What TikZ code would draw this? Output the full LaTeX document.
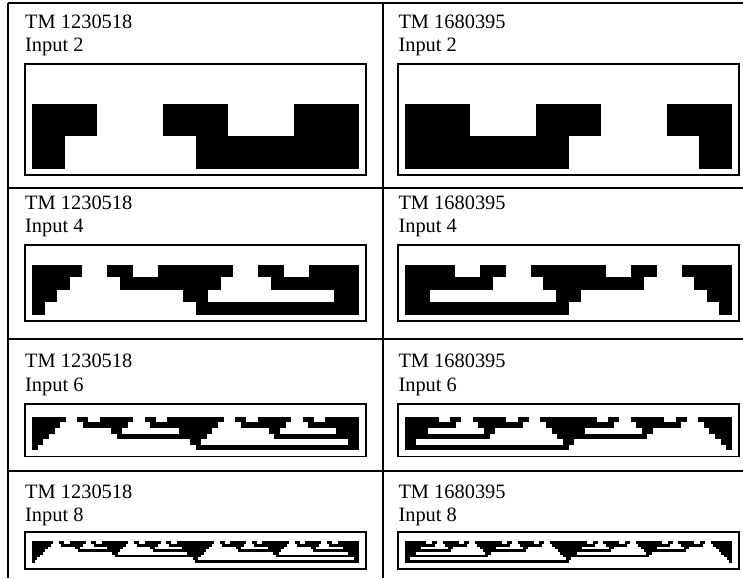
\documentclass[tikz,border=0pt]{standalone}
\usepackage{fontspec}
\setmainfont{Liberation Serif}

\tikzset{
  lbl/.style={anchor=base west, inner sep=0pt, font=\fontsize{20.4}{23}\selectfont},
  rule/.style={line width=1.8pt},
  frame/.style={line width=1.8pt},
}

% one row of the tape: list of black runs a/b (cells a..b-1)
\newcommand{\tmrow}[2]{\foreach \a/\b in {#2} \fill (\a,#1) rectangle (\b,#1+1);}

\newcommand{\tmtwo}{%
  \tmrow{1}{0/2,4/6,8/10}
  \tmrow{2}{0/1,5/10}}
\newcommand{\tmfour}{%
  \tmrow{1}{0/4,6/8,10/16,18/20,22/26}
  \tmrow{2}{0/3,7/15,19/26}
  \tmrow{3}{0/2,12/14,24/26}
  \tmrow{4}{0/1,13/26}}
\newcommand{\tmsix}{%
  \tmrow{1}{0/6,8/10,12/18,20/22,24/34,36/38,40/46,48/50,52/58}
  \tmrow{2}{0/5,9/17,21/33,37/45,49/58}
  \tmrow{3}{0/4,14/16,26/32,42/44,54/58}
  \tmrow{4}{0/3,15/31,43/58}
  \tmrow{5}{0/2,28/30,56/58}
  \tmrow{6}{0/1,29/58}}
\newcommand{\tmeight}{%
  \tmrow{1}{0/8,10/12,14/20,22/24,26/36,38/40,42/48,50/52,54/68,70/72,74/80,82/84,86/96,98/100,102/108,110/112,114/122}
  \tmrow{2}{0/7,11/19,23/35,39/47,51/67,71/79,83/95,99/107,111/122}
  \tmrow{3}{0/6,16/18,28/34,44/46,56/66,76/78,88/94,104/106,116/122}
  \tmrow{4}{0/5,17/33,45/65,77/93,105/122}
  \tmrow{5}{0/4,30/32,58/64,90/92,118/122}
  \tmrow{6}{0/3,31/63,91/122}
  \tmrow{7}{0/2,60/62,120/122}
  \tmrow{8}{0/1,61/122}}

\begin{document}
\begin{tikzpicture}[x=1pt, y=-1pt]
    \useasboundingbox (0,0) rectangle (743,578);
    % table rules
    \draw[rule] (8.3,3.3) -- (743,3.3);
    \draw[rule] (8.3,187.7) -- (743,187.7);
    \draw[rule] (8.3,339) -- (743,339);
    \draw[rule] (8.3,470.7) -- (743,470.7);
    \draw[rule] (8.3,3.3) -- (8.3,578);
    \draw[rule] (382.7,3.3) -- (382.7,578);

    % labels
    \node[lbl] (tmL2) at (25,28.3) {TM 1230518};
    \node[lbl] (inL2) at (25,51.5) {Input 2};
    \node[lbl] (tmR2) at (398.3,28.3) {TM 1680395};
    \node[lbl] (inR2) at (398.3,51.5) {Input 2};
    \node[lbl] (tmL4) at (25,209.3) {TM 1230518};
    \node[lbl] (inL4) at (25,232.3) {Input 4};
    \node[lbl] (tmR4) at (398.3,209.3) {TM 1680395};
    \node[lbl] (inR4) at (398.3,232.3) {Input 4};
    \node[lbl] (tmL6) at (25,367.7) {TM 1230518};
    \node[lbl] (inL6) at (25,391) {Input 6};
    \node[lbl] (tmR6) at (398.3,367.7) {TM 1680395};
    \node[lbl] (inR6) at (398.3,391) {Input 6};
    \node[lbl] (tmL8) at (25,498.3) {TM 1230518};
    \node[lbl] (inL8) at (25,521) {Input 8};
    \node[lbl] (tmR8) at (398.3,498.3) {TM 1680395};
    \node[lbl] (inR8) at (398.3,521) {Input 8};

    % frames
    \draw[frame] (25,64) rectangle (366,175.1);
    \draw[frame] (398,64) rectangle (739,175.1);
    \draw[frame] (25,245) rectangle (366,320.9);
    \draw[frame] (398,245) rectangle (739,320.9);
    \draw[frame] (25,404) rectangle (366,456.5);
    \draw[frame] (398,404) rectangle (739,456.5);
    \draw[frame] (25,531.7) rectangle (366,568.8);
    \draw[frame] (398,531.7) rectangle (739,568.8);

    % tape histories, second machine drawn mirrored
    \begin{scope}[shift={(32,71)}, x=32.7pt, y=-32.7pt] \tmtwo \end{scope}
    \begin{scope}[shift={(732,71)}, x=-32.7pt, y=-32.7pt] \tmtwo \end{scope}
    \begin{scope}[shift={(32,252)}, x=12.577pt, y=-12.577pt] \tmfour \end{scope}
    \begin{scope}[shift={(732,252)}, x=-12.577pt, y=-12.577pt] \tmfour \end{scope}
    \begin{scope}[shift={(32,411)}, x=5.638pt, y=-5.638pt] \tmsix \end{scope}
    \begin{scope}[shift={(732,411)}, x=-5.638pt, y=-5.638pt] \tmsix \end{scope}
    \begin{scope}[shift={(32,538.7)}, x=2.68pt, y=-2.68pt] \tmeight \end{scope}
    \begin{scope}[shift={(732,538.7)}, x=-2.68pt, y=-2.68pt] \tmeight \end{scope}
\end{tikzpicture}
\end{document}
